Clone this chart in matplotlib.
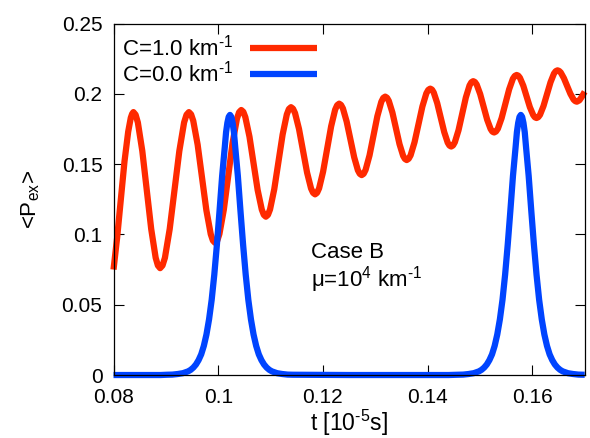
import matplotlib
matplotlib.use('Agg')
import matplotlib.pyplot as plt

# Red curve, C = 1.0 km^-1 (one half-swing per row)
t_red = [
    0.0800, 0.0807, 0.0814, 0.0821, 0.0828, 0.0833, 0.08355,
    0.0838, 0.084225, 0.08465, 0.0855, 0.08635, 0.0872, 0.08805, 0.088475,
    0.0889, 0.089358, 0.08982, 0.09073, 0.09165, 0.09257, 0.09348, 0.093942,
    0.0944, 0.094817, 0.09523, 0.09607, 0.0969, 0.09773, 0.09857, 0.098983,
    0.0994, 0.099817, 0.10023, 0.10107, 0.1019, 0.10273, 0.10357, 0.103983,
    0.1044, 0.104792, 0.10518, 0.10597, 0.10675, 0.10753, 0.10832, 0.108708,
    0.1091, 0.1095, 0.1099, 0.1107, 0.1115, 0.1123, 0.1131, 0.1135,
    0.1139, 0.114283, 0.11467, 0.11543, 0.1162, 0.11697, 0.11773, 0.118117,
    0.1185, 0.118883, 0.11927, 0.12003, 0.1208, 0.12157, 0.12233, 0.122717,
    0.1231, 0.123458, 0.12382, 0.12453, 0.12525, 0.12597, 0.12668, 0.127042,
    0.1274, 0.127775, 0.12815, 0.1289, 0.12965, 0.1304, 0.13115, 0.131525,
    0.1319, 0.132242, 0.13258, 0.13327, 0.13395, 0.13463, 0.13532, 0.135658,
    0.1360, 0.136375, 0.13675, 0.1375, 0.13825, 0.1390, 0.13975, 0.140125,
    0.1405, 0.140833, 0.14117, 0.14183, 0.1425, 0.14317, 0.14383, 0.144167,
    0.1445, 0.14485, 0.1452, 0.1459, 0.1466, 0.1473, 0.1480, 0.14835,
    0.1487, 0.149033, 0.14937, 0.15003, 0.1507, 0.15137, 0.15203, 0.152367,
    0.1527, 0.153058, 0.15342, 0.15413, 0.15485, 0.15557, 0.15628, 0.156642,
    0.1570, 0.157317, 0.15763, 0.15827, 0.1589, 0.15953, 0.16017, 0.160483,
    0.1608, 0.161133, 0.16147, 0.16213, 0.1628, 0.16347, 0.16413, 0.164467,
    0.1648, 0.165108, 0.16542, 0.16603, 0.16665, 0.16727, 0.16788, 0.168192,
    0.1685, 0.1690, 0.1695, 0.1700]
p_red = [
    0.075, 0.098, 0.125, 0.152, 0.173, 0.183, 0.1857,
    0.187, 0.1851, 0.1796, 0.1593, 0.1315, 0.1038, 0.0834, 0.0779,
    0.076, 0.0779, 0.0834, 0.1038, 0.1315, 0.1593, 0.1796, 0.1851,
    0.187, 0.1854, 0.1808, 0.1638, 0.1405, 0.1173, 0.1002, 0.0956,
    0.094, 0.0956, 0.1003, 0.1176, 0.1413, 0.1649, 0.1822, 0.1869,
    0.1885, 0.1872, 0.1834, 0.1695, 0.1506, 0.1316, 0.1177, 0.1139,
    0.1126, 0.1139, 0.1178, 0.1321, 0.1516, 0.1710, 0.1853, 0.1892,
    0.1905, 0.1894, 0.1863, 0.1750, 0.1595, 0.1440, 0.1327, 0.1296,
    0.1285, 0.1296, 0.1328, 0.1446, 0.1608, 0.1769, 0.1887, 0.1919,
    0.1930, 0.1921, 0.1896, 0.1803, 0.1676, 0.1549, 0.1456, 0.1431,
    0.1422, 0.1431, 0.1459, 0.1562, 0.1701, 0.1841, 0.1943, 0.1971,
    0.1980, 0.1972, 0.1950, 0.1867, 0.1755, 0.1642, 0.1559, 0.1537,
    0.1529, 0.1538, 0.1563, 0.1656, 0.1783, 0.1910, 0.2003, 0.2028,
    0.2037, 0.2030, 0.2009, 0.1934, 0.1831, 0.1728, 0.1653, 0.1632,
    0.1625, 0.1633, 0.1656, 0.1741, 0.1858, 0.1974, 0.2059, 0.2082,
    0.2090, 0.2084, 0.2066, 0.1999, 0.1908, 0.1816, 0.1750, 0.1731,
    0.1725, 0.1732, 0.1752, 0.1827, 0.1930, 0.2032, 0.2107, 0.2127,
    0.2134, 0.2129, 0.2114, 0.2058, 0.1981, 0.1905, 0.1849, 0.1833,
    0.1828, 0.1834, 0.1851, 0.1913, 0.1998, 0.2082, 0.2144, 0.2161,
    0.2167, 0.2163, 0.2152, 0.2111, 0.2056, 0.2000, 0.1959, 0.1948,
    0.1944, 0.1954, 0.1982, 0.2015]

# Blue curve, C = 0.0 km^-1: flat with two identical narrow peaks
t_peak1 = [
    0.09025, 0.09125, 0.09225, 0.09325, 0.09425, 0.09475, 0.09525, 0.09575,
    0.09625, 0.09675, 0.09725, 0.09775, 0.09825, 0.09875, 0.09925, 0.09975,
    0.10025, 0.10075, 0.10125, 0.1015, 0.10175, 0.1020, 0.10225,
    0.1025, 0.10275, 0.1030, 0.10325, 0.10375, 0.10425, 0.10475, 0.10525,
    0.10575, 0.10625, 0.10675, 0.10725, 0.10775, 0.10825, 0.10875, 0.10925,
    0.10975, 0.11025, 0.11125, 0.11225, 0.11325, 0.11425]
t_peak2 = [
    0.1458, 0.1468, 0.1478, 0.1488, 0.1498, 0.1503, 0.1508, 0.1513,
    0.1518, 0.1523, 0.1528, 0.1533, 0.1538, 0.1543, 0.1548, 0.1553,
    0.1558, 0.1563, 0.1568, 0.15705, 0.1573, 0.15755, 0.1578,
    0.15805, 0.1583, 0.15855, 0.1588, 0.1593, 0.1598, 0.1603, 0.1608,
    0.1613, 0.1618, 0.1623, 0.1628, 0.1633, 0.1638, 0.1643, 0.1648,
    0.1653, 0.1658, 0.1668, 0.1678, 0.1688, 0.1698]
p_peak = [
    0.0002, 0.0003, 0.0007, 0.0013, 0.0026, 0.0037, 0.0053, 0.0075,
    0.0106, 0.0147, 0.0207, 0.0288, 0.0396, 0.0535, 0.0714, 0.0928,
    0.1167, 0.1416, 0.1620, 0.1727, 0.1794, 0.1836, 0.1850,
    0.1836, 0.1794, 0.1727, 0.1620, 0.1416, 0.1167, 0.0928, 0.0714,
    0.0535, 0.0396, 0.0288, 0.0207, 0.0147, 0.0106, 0.0075, 0.0053,
    0.0037, 0.0026, 0.0013, 0.0007, 0.0003, 0.0002]

t_blue = [0.0800, 0.0890] + t_peak1 + [0.1250, 0.1440] + t_peak2 + [0.1700]
p_blue = [0.0, 0.0] + p_peak + [0.0, 0.0] + p_peak + [0.0002]

series_labels = ['C=1.0 km$^{\u20101}$', 'C=0.0 km$^{\u20101}$']
xticks = [0.08, 0.10, 0.12, 0.14, 0.16]
xtick_labels = ['0.08', '0.1', '0.12', '0.14', '0.16']
yticks = [0, 0.05, 0.1, 0.15, 0.2, 0.25]
ytick_labels = ['0', '0.05', '0.1', '0.15', '0.2', '0.25']

plt.rcParams['font.family'] = ['Liberation Sans', 'DejaVu Sans']
plt.rcParams['mathtext.default'] = 'regular'

fig = plt.figure(figsize=(5.9, 4.38), dpi=100)
ax = fig.add_axes([0.1924, 0.1438, 0.7986, 0.8025])

ax.plot(t_red, p_red, color='#ff2a00', lw=4.5, label=series_labels[0],
        clip_on=False, solid_capstyle='butt', solid_joinstyle='round')
ax.plot(t_blue, p_blue, color='#0044ff', lw=4.5, label=series_labels[1],
        clip_on=False, solid_capstyle='butt', solid_joinstyle='round')

ax.set_xlim(0.08, 0.17)
ax.set_ylim(0, 0.25)
ax.set_xticks(xticks)
ax.set_xticklabels(xtick_labels)
ax.set_yticks(yticks)
ax.set_yticklabels(ytick_labels)
ax.tick_params(direction='in', top=True, right=True, length=7, width=0.8,
               labelsize=15)
ax.tick_params(axis='x', pad=9)
ax.tick_params(axis='y', pad=8)
for sp in ax.spines.values():
    sp.set_linewidth(0.9)

ax.set_xlabel('t [10$^{\u20105}$s]', fontsize=16.5, labelpad=1)
ax.set_ylabel('<P$_{ex}$>', fontsize=16, labelpad=14)

ax.legend(loc='upper left', bbox_to_anchor=(0.017, 0.968), frameon=False,
          markerfirst=False, fontsize=16, handlelength=3.0,
          handletextpad=0.8, labelspacing=0.0, borderpad=0, borderaxespad=0)

ax.text(0.1177, 0.0830, 'Case B', fontsize=16, va='baseline')
ax.text(0.1177, 0.0633, 'μ=10$^{4}$ km$^{\u20101}$', fontsize=16, va='baseline')

fig.savefig('out.png', dpi=100)
